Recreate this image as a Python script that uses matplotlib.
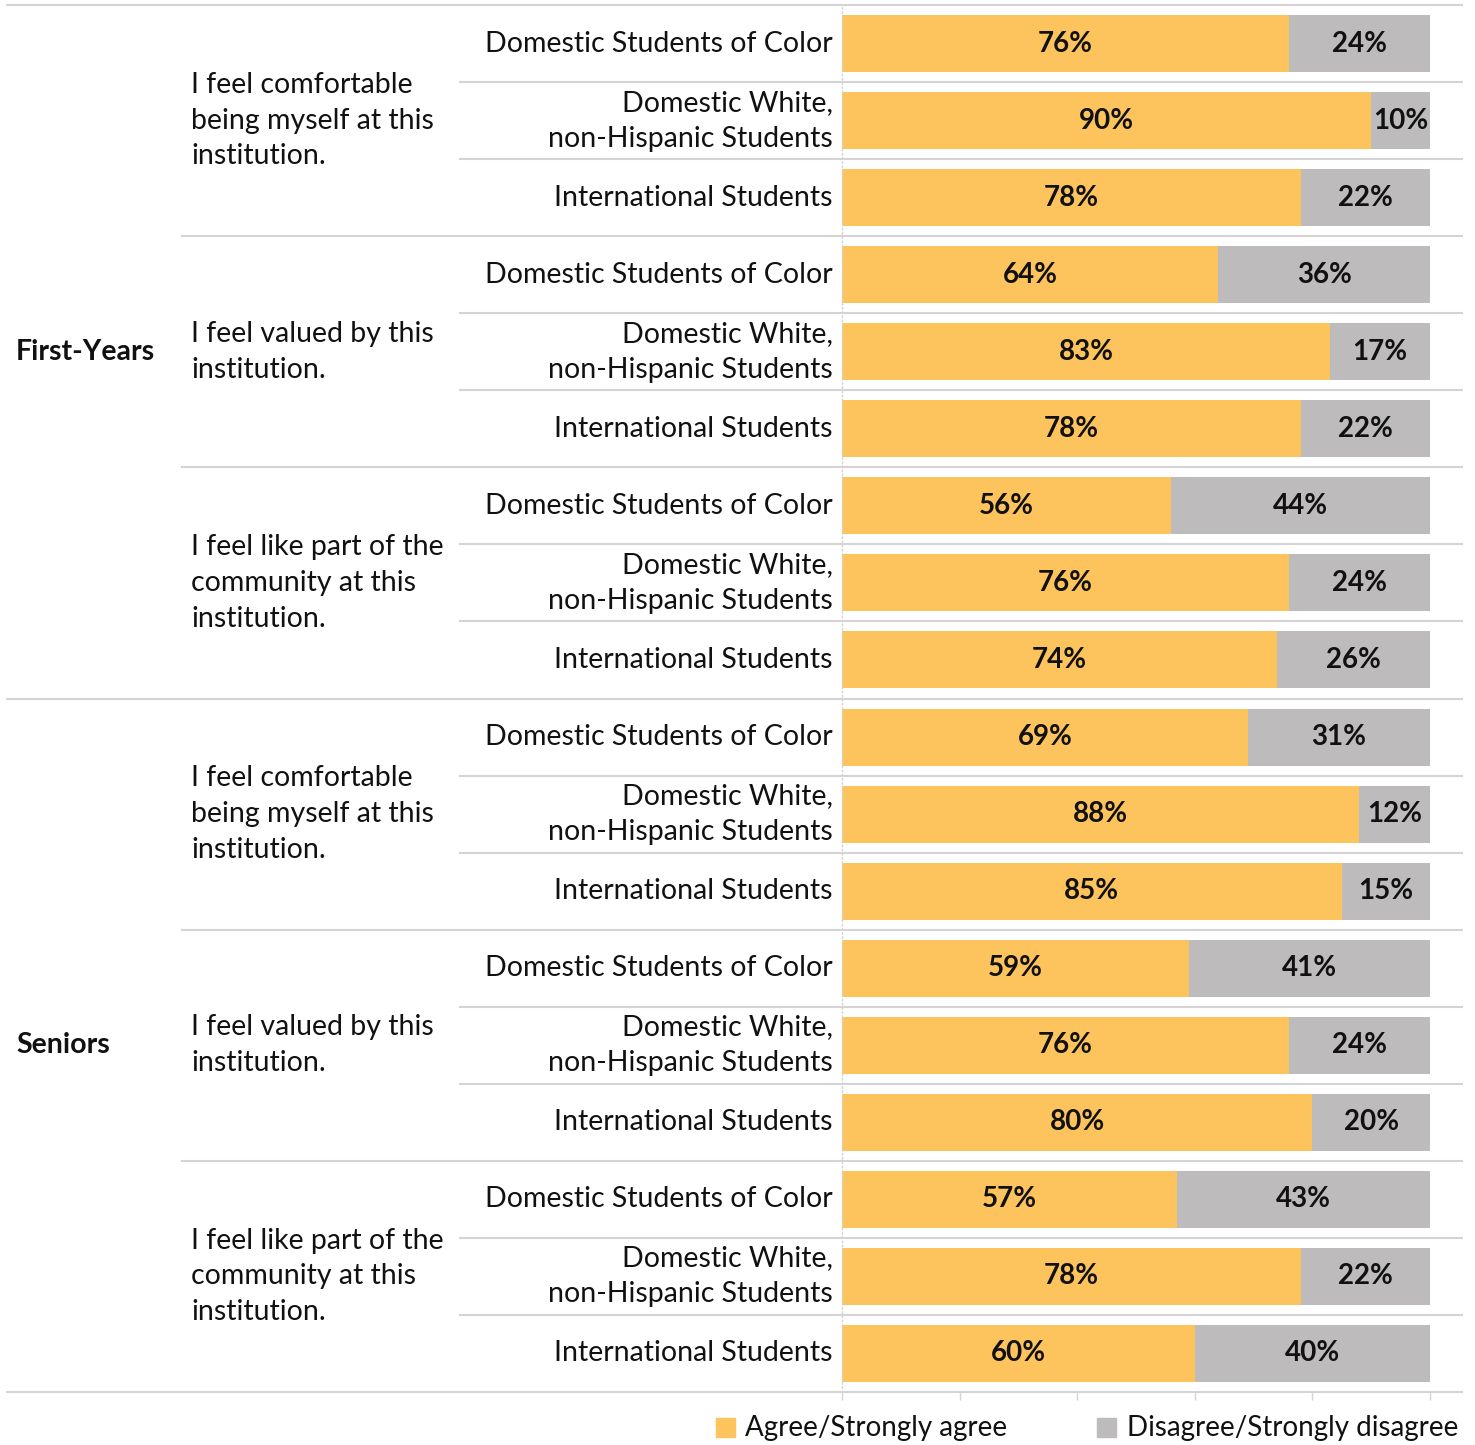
import numpy as np
import matplotlib.pyplot as plt
from matplotlib.patches import Rectangle

plt.rcParams['font.family'] = ['Lato', 'DejaVu Sans']

groups = ["First-Years", "Seniors"]
questions = [
    "I feel comfortable\nbeing myself at this\ninstitution.",
    "I feel valued by this\ninstitution.",
    "I feel like part of the\ncommunity at this\ninstitution.",
]
populations = [
    "Domestic Students of Color",
    "Domestic White,\nnon-Hispanic Students",
    "International Students",
]
agree = [76, 90, 78, 64, 83, 78, 56, 76, 74,
         69, 88, 85, 59, 76, 80, 57, 78, 60]
disagree = [24, 10, 22, 36, 17, 22, 44, 24, 26,
            31, 12, 15, 41, 24, 20, 43, 22, 40]

ORANGE = "#FDC35C"
GREY = "#BDBBBC"
LINE = "#D4D4D4"
W, H = 1475, 1445


def fx(px):
    return px / W


def fy(py):
    return 1 - py / H


def ax_x(px):
    # pixel x -> axes fraction of the bar axes
    return (px - 842) / (1430 - 842)


fig = plt.figure(figsize=(W / 100, H / 100), dpi=100)
ax = fig.add_axes([fx(842), fy(1392), fx(1430) - fx(842), (1392 - 5) / H])

n = len(agree)
y = np.arange(n)
agree = np.array(agree)
disagree = np.array(disagree)

ax.barh(y, agree, height=0.74, color=ORANGE, linewidth=0)
ax.barh(y, disagree, left=agree, height=0.74, color=GREY, linewidth=0)

for i in range(n):
    ax.text(agree[i] / 2, y[i], f"{agree[i]}%", ha="center", va="center",
            fontsize=20, fontweight="bold", color="#111111")
    ax.text(agree[i] + disagree[i] / 2, y[i], f"{disagree[i]}%", ha="center",
            va="center", fontsize=20, fontweight="bold", color="#111111")

ax.set_xlim(0, 100)
ax.set_ylim(n - 0.5, -0.5)
ax.set_yticks([])
ax.set_xticks([0, 20, 40, 60, 80, 100])
ax.set_xticklabels([])
ax.tick_params(axis="x", length=6, color=LINE, width=1)
for side in ["top", "right", "bottom"]:
    ax.spines[side].set_visible(False)
ax.spines["left"].set_linestyle((0, (1, 2)))
ax.spines["left"].set_color(LINE)
ax.spines["left"].set_linewidth(1)

tr = ax.get_yaxis_transform()

# separators: rows, questions, groups
for b in np.arange(n + 1) - 0.5:
    k = int(b + 0.5)
    if k % 9 == 0:
        x0 = 7
    elif k % 3 == 0:
        x0 = 182
    else:
        x0 = 460
    ax.plot([ax_x(x0), ax_x(1462)], [b, b], color=LINE, lw=1.5,
            transform=tr, clip_on=False, zorder=0)

# population labels
for i in range(n):
    ax.text(ax_x(833), y[i], populations[i % 3], ha="right", va="center",
            fontsize=20.5, color="#111111", linespacing=1.47,
            transform=tr)

# question labels
for q in range(n // 3):
    ax.text(ax_x(191), 3 * q + 1, questions[q % 3], ha="left", va="center",
            fontsize=20.5, color="#111111", linespacing=1.47, transform=tr)

# group labels
for g, name in enumerate(groups):
    ax.text(ax_x(16), 9 * g + 4, name, ha="left", va="center",
            fontsize=20.5, fontweight="bold", color="#111111", transform=tr)

# legend
fig.patches.append(Rectangle((fx(716), fy(1437)), fx(19), 19 / H,
                             color=ORANGE, transform=fig.transFigure))
fig.text(fx(745), fy(1428), "Agree/Strongly agree", ha="left",
         va="center", fontsize=20, color="#111111")
fig.patches.append(Rectangle((fx(1097), fy(1437)), fx(19), 19 / H,
                             color=GREY, transform=fig.transFigure))
fig.text(fx(1127), fy(1428), "Disagree/Strongly disagree", ha="left",
         va="center", fontsize=20, color="#111111")

fig.savefig("out.png", dpi=100, facecolor="white")
